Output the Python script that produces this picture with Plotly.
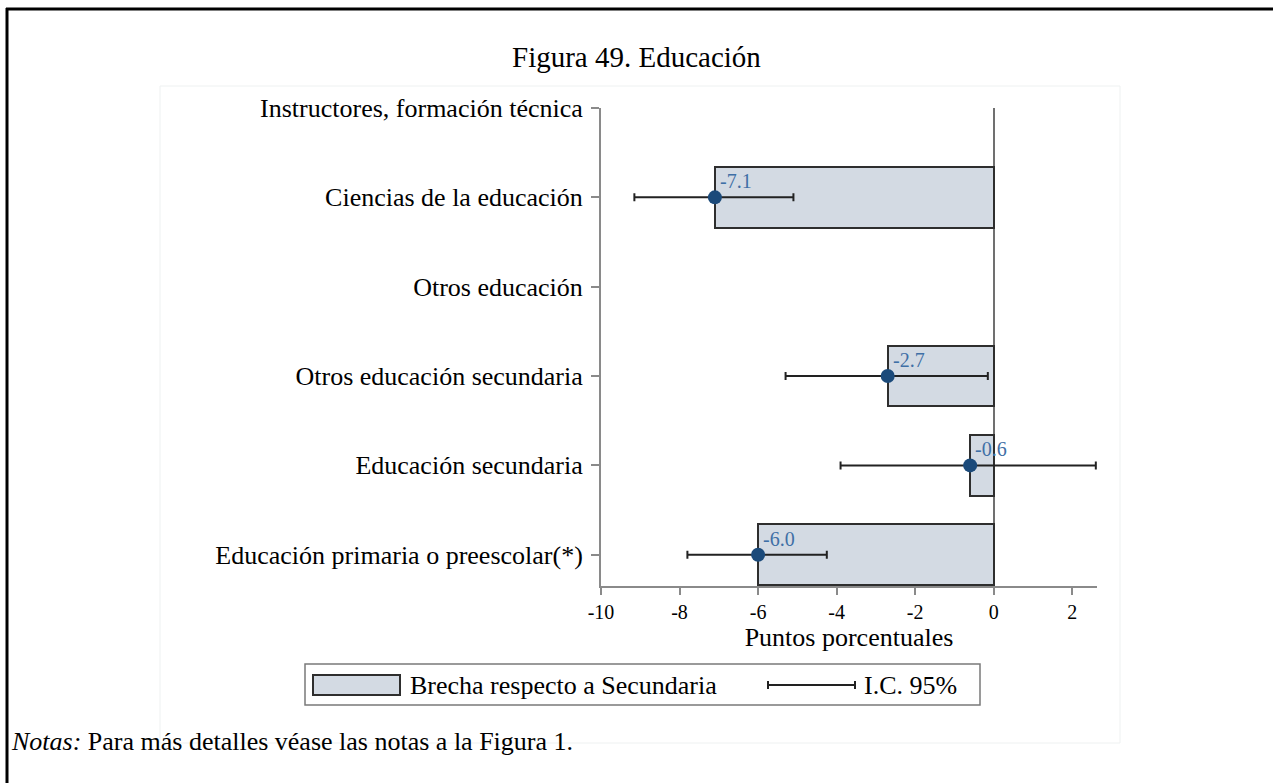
import plotly.graph_objects as go

# Categories listed bottom to top
categories = [
    "Educación primaria o preescolar(*)",
    "Educación secundaria",
    "Otros educación secundaria",
    "Otros educación",
    "Ciencias de la educación",
    "Instructores, formación técnica",
]
# Gap with respect to secondary (percentage points); None = no estimate
gap = [-6.0, -0.6, -2.7, None, -7.1, None]
ci_low = [-7.8, -3.9, -5.3, None, -9.15, None]
ci_high = [-4.25, 2.6, -0.15, None, -5.1, None]
x_ticks = [-10, -8, -6, -4, -2, 0, 2]

W, H = 1273, 783


def px(x):
    return x / W


def py(y):
    return 1 - y / H


SERIF = "Liberation Serif"
BAR_FILL = "#d3dae3"
BAR_LINE = "#2e2e2e"
DOT = "#1b4a7a"
LABEL_BLUE = "#3f6fa6"
AXIS_GRAY = "#8a8a8a"

pos = list(range(len(categories)))
idx = [i for i, v in enumerate(gap) if v is not None]

fig = go.Figure()

fig.add_trace(go.Bar(
    x=[gap[i] for i in idx],
    y=[pos[i] for i in idx],
    orientation="h",
    width=0.68,
    marker=dict(color=BAR_FILL, line=dict(color=BAR_LINE, width=2)),
    showlegend=False,
    hoverinfo="skip",
))

fig.add_trace(go.Scatter(
    x=[gap[i] for i in idx],
    y=[pos[i] for i in idx],
    mode="markers",
    marker=dict(color=DOT, size=14),
    error_x=dict(
        type="data",
        symmetric=False,
        array=[ci_high[i] - gap[i] for i in idx],
        arrayminus=[gap[i] - ci_low[i] for i in idx],
        color="#222222",
        thickness=2,
        width=4,
    ),
    showlegend=False,
    hoverinfo="skip",
))

annotations = []
for i in idx:
    annotations.append(dict(
        x=gap[i], y=pos[i], xref="x", yref="y",
        text=f"{gap[i]:.1f}", showarrow=False,
        xanchor="left", yanchor="middle", xshift=3, yshift=16,
        font=dict(family=SERIF, size=20, color=LABEL_BLUE),
    ))

# Title and footnote
annotations.append(dict(
    x=0.5, y=py(57), xref="paper", yref="paper", text="Figura 49. Educación",
    showarrow=False, xanchor="center", yanchor="middle",
    font=dict(family=SERIF, size=29, color="black"),
))
annotations.append(dict(
    x=px(9), y=py(741), xref="paper", yref="paper",
    text="<i>Notas:</i> Para más detalles véase las notas a la Figura 1.",
    showarrow=False, xanchor="left", yanchor="middle",
    font=dict(family=SERIF, size=26, color="black"),
))

# Legend (drawn by hand: wide swatch and CI whisker)
annotations.append(dict(
    x=px(408), y=py(685), xref="paper", yref="paper",
    text="Brecha respecto a Secundaria", showarrow=False,
    xanchor="left", yanchor="middle",
    font=dict(family=SERIF, size=26, color="black"),
))
annotations.append(dict(
    x=px(862), y=py(685), xref="paper", yref="paper",
    text="I.C. 95%", showarrow=False,
    xanchor="left", yanchor="middle",
    font=dict(family=SERIF, size=26, color="black"),
))

shapes = [
    # outer frame (top and left)
    dict(type="line", xref="paper", yref="paper", x0=px(6), x1=1, y0=py(9), y1=py(9),
         line=dict(color="black", width=3)),
    dict(type="line", xref="paper", yref="paper", x0=px(7), x1=px(7), y0=py(8), y1=0,
         line=dict(color="black", width=3)),
    # faint panel border
    dict(type="rect", xref="paper", yref="paper", x0=px(160), x1=px(1120), y0=py(743), y1=py(86),
         line=dict(color="#eef1f1", width=1), layer="below"),
    # legend box
    dict(type="rect", xref="paper", yref="paper", x0=px(305), x1=px(980), y0=py(705), y1=py(664),
         line=dict(color="#7a7a7a", width=1.5)),
    dict(type="rect", xref="paper", yref="paper", x0=px(313), x1=px(400), y0=py(695), y1=py(675),
         fillcolor=BAR_FILL, line=dict(color=BAR_LINE, width=2)),
    dict(type="line", xref="paper", yref="paper", x0=px(768), x1=px(855), y0=py(685), y1=py(685),
         line=dict(color="#222222", width=2)),
    dict(type="line", xref="paper", yref="paper", x0=px(768), x1=px(768), y0=py(681), y1=py(689),
         line=dict(color="#222222", width=2)),
    dict(type="line", xref="paper", yref="paper", x0=px(855), x1=px(855), y0=py(681), y1=py(689),
         line=dict(color="#222222", width=2)),
]

fig.update_layout(
    width=W, height=H,
    margin=dict(l=0, r=0, t=0, b=0, pad=0, autoexpand=False),
    paper_bgcolor="white", plot_bgcolor="white",
    annotations=annotations, shapes=shapes,
    bargap=0,
    xaxis=dict(
        domain=[px(601), px(1097)],
        range=[-10, 2.63],
        tickvals=x_ticks,
        ticktext=[str(t) for t in x_ticks],
        ticks="outside", ticklen=7, tickwidth=2, tickcolor=AXIS_GRAY,
        showline=True, linecolor=AXIS_GRAY, linewidth=2,
        showgrid=False, automargin=False,
        zeroline=True, zerolinecolor="#707070", zerolinewidth=2,
        tickfont=dict(family=SERIF, size=20, color="black"),
        title=dict(text="Puntos porcentuales", font=dict(family=SERIF, size=26, color="black"),
                   standoff=4),
    ),
    yaxis=dict(
        domain=[py(586), py(108)],
        range=[-0.35, 5],
        tickvals=pos,
        ticktext=categories,
        ticks="outside", ticklen=8, tickwidth=2, tickcolor=AXIS_GRAY,
        showline=True, linecolor=AXIS_GRAY, linewidth=2,
        showgrid=False, zeroline=False, automargin=False,
        ticklabelstandoff=3,
        tickfont=dict(family=SERIF, size=26, color="black"),
    ),
)

fig.write_html("out.html")
